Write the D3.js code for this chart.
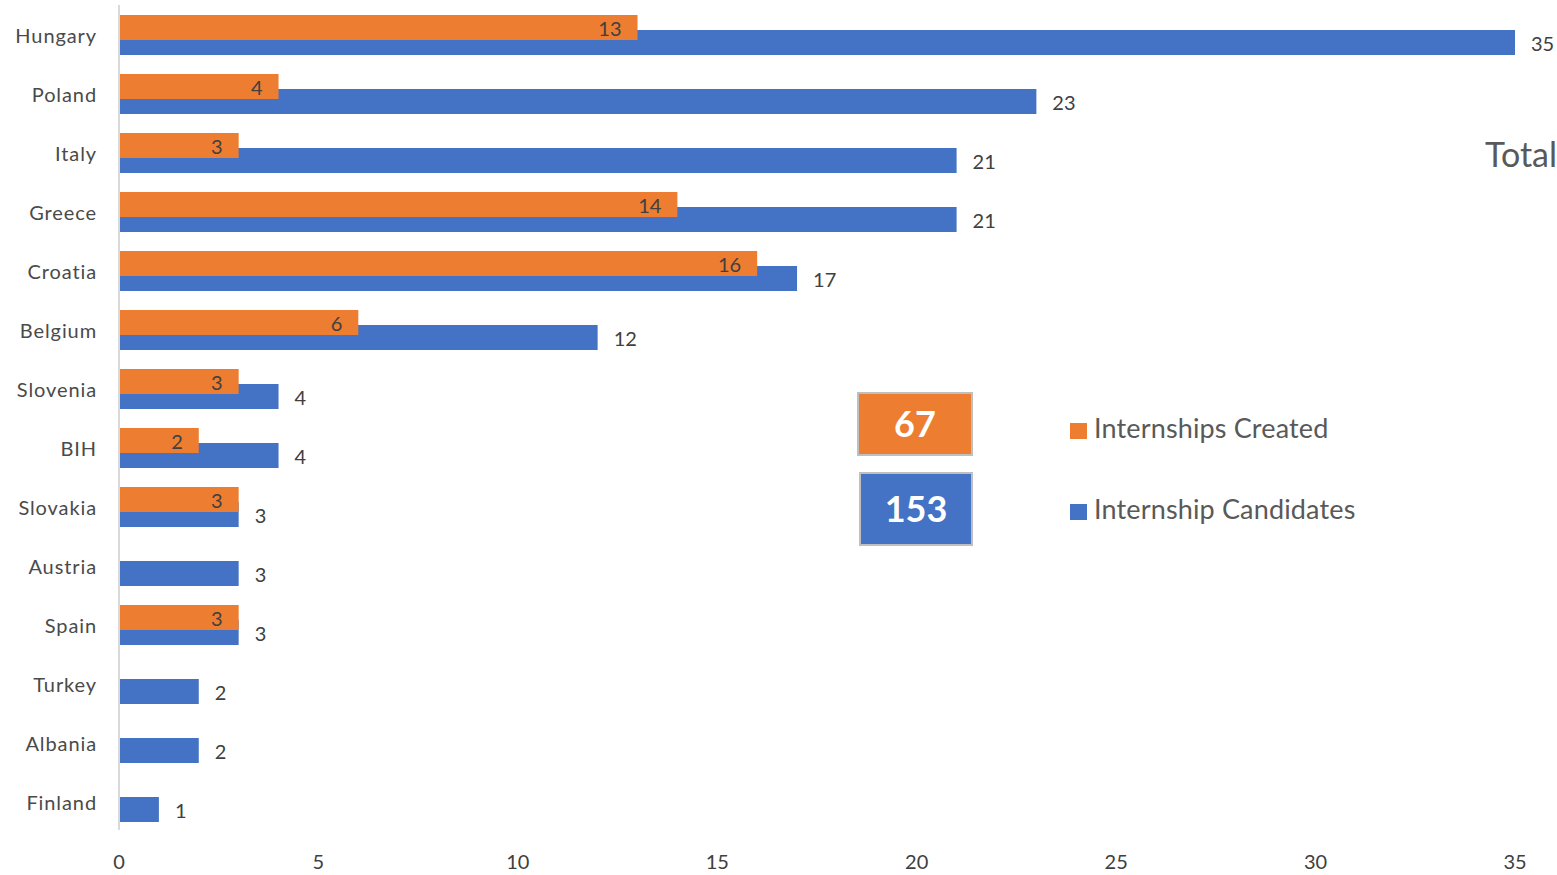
<!DOCTYPE html>
<html>
<head>
<meta charset="utf-8">
<script src="https://cdn.jsdelivr.net/npm/d3@7"></script>
<style>
  body { margin: 0; background: #fff; }
  svg text { font-family: Lato, "Open Sans", sans-serif; }
</style>
</head>
<body>
<svg id="chart" width="1557" height="875"></svg>
<script>
// data
var countries = ["Hungary", "Poland", "Italy", "Greece", "Croatia", "Belgium", "Slovenia",
                 "BIH", "Slovakia", "Austria", "Spain", "Turkey", "Albania", "Finland"];
var created = [13, 4, 3, 14, 16, 6, 3, 2, 3, null, 3, null, null, null];
var candidates = [35, 23, 21, 21, 17, 12, 4, 4, 3, 3, 3, 2, 2, 1];
var xTicks = [0, 5, 10, 15, 20, 25, 30, 35];
var totalCreated = 67;
var totalCandidates = 153;

// colours
var colours = {created: "#ed7d31", candidates: "#4472c4", text: "#404040", axis: "#d9d9d9"};

var svg = d3.select("#chart");

var x = d3.scaleLinear().domain([0, 35]).range([119, 1515]);
var y = d3.scaleBand().domain(countries).range([5, 831]).padding(0);

// axis line
svg.append("line")
    .attr("x1", x(0)).attr("x2", x(0))
    .attr("y1", 5).attr("y2", 830)
    .attr("stroke", colours.axis).attr("stroke-width", 2);

// x tick labels
svg.selectAll(".xtick").data(xTicks).enter().append("text")
    .attr("x", function(d) { return x(d); })
    .attr("y", 869)
    .attr("text-anchor", "middle")
    .style("font-size", "20px")
    .attr("fill", colours.text)
    .text(function(d) { return d; });

// category labels
svg.selectAll(".cat").data(countries).enter().append("text")
    .attr("x", 97)
    .attr("y", function(d) { return y(d) + 38; })
    .attr("text-anchor", "end")
    .style("font-size", "20px")
    .style("letter-spacing", "0.9px")
    .attr("fill", "#4a4a4a")
    .text(function(d) { return d; });

var rows = countries.map(function(c, i) {
    return {name: c, created: created[i], candidates: candidates[i]};
});

// blue bars (candidates)
svg.selectAll(".blue").data(rows).enter().append("rect")
    .attr("x", x(0) + 1)
    .attr("y", function(d) { return y(d.name) + 25; })
    .attr("width", function(d) { return x(d.candidates) - x(0) - 1; })
    .attr("height", 25)
    .attr("fill", colours.candidates);

// orange bars (created), drawn on top
var withCreated = rows.filter(function(d) { return d.created != null; });
svg.selectAll(".orange").data(withCreated).enter().append("rect")
    .attr("x", x(0) + 1)
    .attr("y", function(d) { return y(d.name) + 10; })
    .attr("width", function(d) { return x(d.created) - x(0) - 1; })
    .attr("height", 25)
    .attr("fill", colours.created);

// labels
svg.selectAll(".blabel").data(rows).enter().append("text")
    .attr("x", function(d) { return x(d.candidates) + 16; })
    .attr("y", function(d) { return y(d.name) + 46; })
    .style("font-size", "20px")
    .attr("fill", colours.text)
    .text(function(d) { return d.candidates; });

svg.selectAll(".olabel").data(withCreated).enter().append("text")
    .attr("x", function(d) { return x(d.created) - 16; })
    .attr("y", function(d) { return y(d.name) + 31; })
    .attr("text-anchor", "end")
    .style("font-size", "20px")
    .attr("fill", colours.text)
    .text(function(d) { return d.created; });

// Total
svg.append("text")
    .attr("x", 1557).attr("y", 167)
    .attr("text-anchor", "end")
    .style("font-size", "34px")
    .attr("fill", "#595959")
    .text("Total");

// total boxes
var boxes = [
    {value: totalCreated, colour: colours.created, x: 858, y: 393, w: 114, h: 62},
    {value: totalCandidates, colour: colours.candidates, x: 860, y: 473, w: 112, h: 72}
];
boxes.forEach(function(b) {
    svg.append("rect")
        .attr("x", b.x).attr("y", b.y)
        .attr("width", b.w).attr("height", b.h)
        .attr("fill", b.colour)
        .attr("stroke", "#bfbfbf").attr("stroke-width", 2);
    svg.append("text")
        .attr("x", b.x + b.w / 2).attr("y", b.y + b.h / 2 + 13)
        .attr("text-anchor", "middle")
        .style("font-size", "36px").style("font-weight", "bold")
        .attr("fill", "#fff")
        .text(b.value);
});

// legend
var legend = [
    {label: "Internships Created", colour: colours.created, y: 423},
    {label: "Internship Candidates", colour: colours.candidates, y: 504}
];
legend.forEach(function(l) {
    svg.append("rect")
        .attr("x", 1070).attr("y", l.y)
        .attr("width", 17).attr("height", 16)
        .attr("fill", l.colour);
    svg.append("text")
        .attr("x", 1094).attr("y", l.y + 15)
        .style("font-size", "27px")
        .style("letter-spacing", "0.15px")
        .attr("fill", "#595959")
        .text(l.label);
});
</script>
</body>
</html>
